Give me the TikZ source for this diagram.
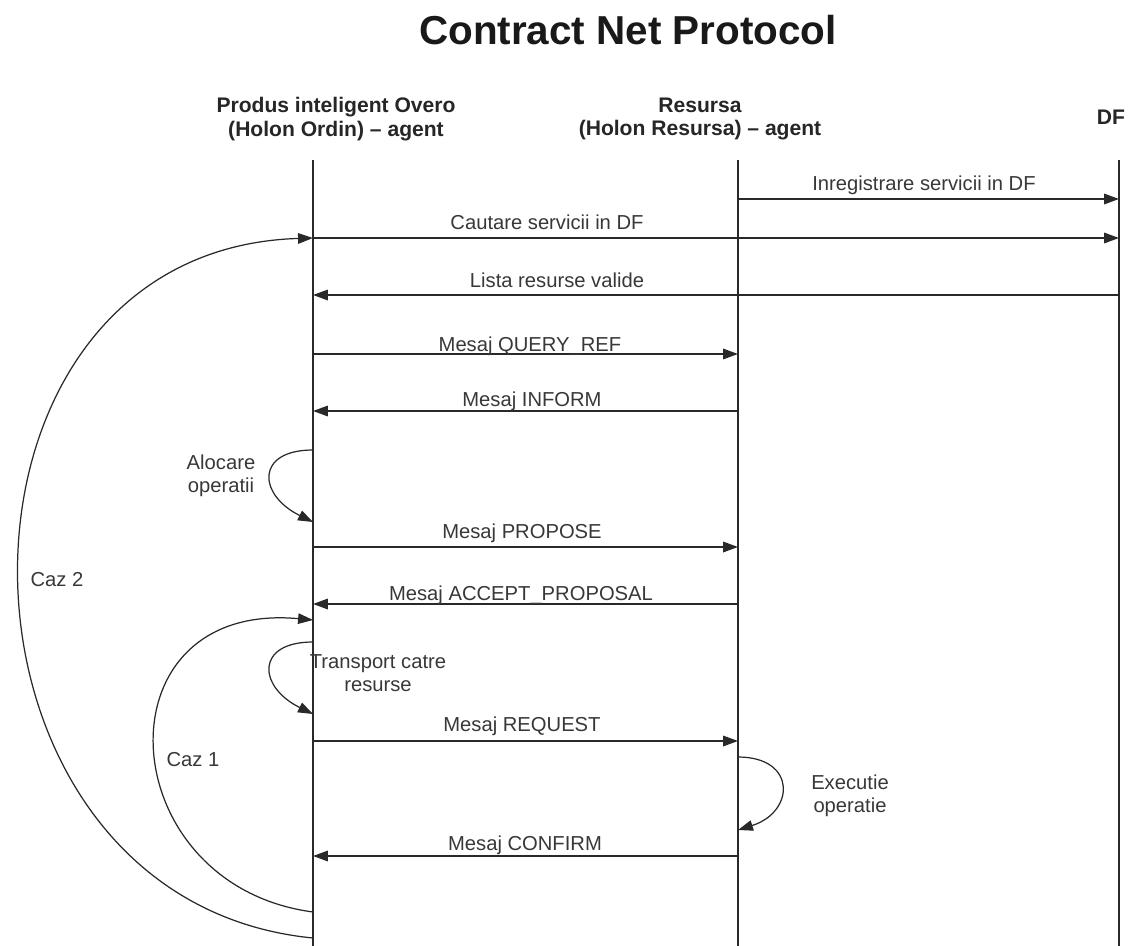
\documentclass[tikz,border=0pt]{standalone}
\usepackage{fontspec}
\setmainfont{Liberation Sans}
\usetikzlibrary{arrows.meta}
\definecolor{ink}{rgb}{0.16,0.16,0.16}
\definecolor{txt}{rgb}{0.22,0.22,0.22}
\begin{document}
\begin{tikzpicture}[x=0.02cm,y=-0.02cm,
    lifeline/.style={draw=ink,line width=0.9pt},
    msg/.style={draw=ink,line width=0.9pt,-{Triangle[length=8.5pt,width=6pt]}},
    loopline/.style={draw=ink,line width=0.7pt,-{Triangle[length=8.5pt,width=6pt]}},
    lbl/.style={text=txt,font=\fontsize{11.5}{13}\selectfont,anchor=base,inner sep=0pt},
    note/.style={text=txt,font=\fontsize{11.5}{13}\selectfont,align=center,inner sep=0pt},
    head/.style={text=black!85,font=\bfseries\fontsize{12}{13.6}\selectfont,align=center,inner sep=0pt}]
\useasboundingbox (0,0) rectangle (1129,946);
\fill[white] (0,0) rectangle (1129,946);

% title and participant headers
\node[text=black!90,font=\bfseries\fontsize{23}{27}\selectfont,inner sep=0pt] (title) at (628,30) {Contract Net Protocol};
\node[head] (hprod) at (336,119) {Produs inteligent Overo\\(Holon Ordin) – agent};
\node[head] (hres) at (700,119) {Resursa\\(Holon Resursa) – agent};
\node[head] (hdf) at (1111,117) {DF};

% lifelines
\coordinate (ptop) at (313,160); \coordinate (pbot) at (313,946);
\coordinate (rtop) at (738,160); \coordinate (rbot) at (738,946);
\coordinate (dtop) at (1119,160); \coordinate (dbot) at (1119,946);
\draw[lifeline] (ptop) -- (pbot);
\draw[lifeline] (rtop) -- (rbot);
\draw[lifeline] (dtop) -- (dbot);

% message end points on the lifelines
\coordinate (r199) at (738,199);  \coordinate (d199) at (1119,199);
\coordinate (p238) at (313,238);  \coordinate (d238) at (1119,238);
\coordinate (p295) at (313,295);  \coordinate (d295) at (1119,295);
\coordinate (p354) at (313,354);  \coordinate (r354) at (738,354);
\coordinate (p411) at (313,411);  \coordinate (r411) at (738,411);
\coordinate (p547) at (313,547);  \coordinate (r547) at (738,547);
\coordinate (p604) at (313,604);  \coordinate (r604) at (738,604);
\coordinate (p741) at (313,741);  \coordinate (r741) at (738,741);
\coordinate (p856) at (313,856);  \coordinate (r856) at (738,856);

% messages
\draw[msg] (r199) -- (d199);
\node[lbl] (m1) at (924,190) {Inregistrare servicii in DF};
\draw[msg] (p238) -- (d238);
\node[lbl] (m2) at (547,229) {Cautare servicii in DF};
\draw[msg] (d295) -- (p295);
\node[lbl] (m3) at (557,287) {Lista resurse valide};
\draw[msg] (p354) -- (r354);
\node[lbl] (m4) at (530,351) {Mesaj QUERY\_REF};
\draw[msg] (r411) -- (p411);
\node[lbl] (m5) at (532,406) {Mesaj INFORM};
\draw[msg] (p547) -- (r547);
\node[lbl] (m6) at (522,538) {Mesaj PROPOSE};
\draw[msg] (r604) -- (p604);
\node[lbl] (m7) at (521,600) {Mesaj ACCEPT\_PROPOSAL};
\draw[msg] (p741) -- (r741);
\node[lbl] (m8) at (522,731) {Mesaj REQUEST};
\draw[msg] (r856) -- (p856);
\node[lbl] (m9) at (525,850) {Mesaj CONFIRM};

% self messages
\coordinate (a1) at (313,450); \coordinate (a2) at (313,522);
\draw[loopline] (a1) .. controls (255,450) and (258,495) .. (a2);
\node[note] (alloc) at (221,476) {Alocare\\operatii};

\coordinate (t1) at (313,642); \coordinate (t2) at (313,714);
\draw[loopline] (t1) .. controls (255,642) and (258,687) .. (t2);
\node[note] (transp) at (378,673) {Transport catre\\resurse};

\coordinate (e1) at (738,757); \coordinate (e2) at (738,830);
\draw[loopline] (e1) .. controls (797,757) and (795,812) .. (e2);
\node[note] (exec) at (850,796) {Executie\\operatie};

% repetition cases
\coordinate (c1b) at (313,912); \coordinate (c1t) at (313,620);
\draw[loopline] (c1b) .. controls (110,885) and (95,600) .. (c1t);
\node[lbl] (caz1) at (193,766) {Caz 1};

\coordinate (c2b) at (313,938);
\draw[loopline] (c2b) .. controls (-75,900) and (-82,250) .. (p238);
\node[lbl] (caz2) at (57,586) {Caz 2};
\end{tikzpicture}
\end{document}
